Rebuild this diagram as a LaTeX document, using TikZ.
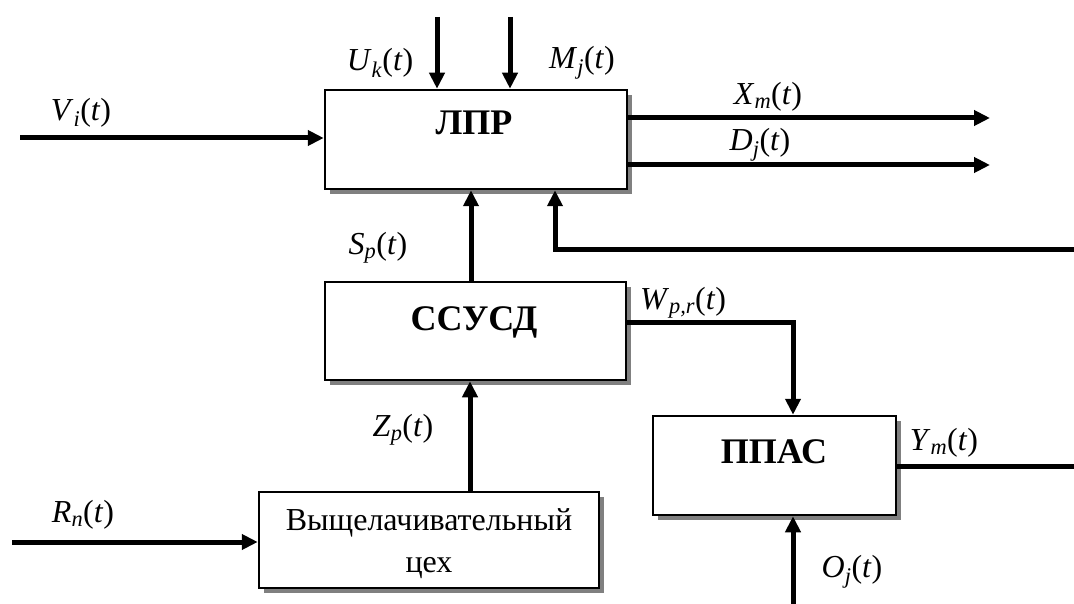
\documentclass[tikz,border=0pt]{standalone}
\usepackage{fontspec}
\setmainfont{Liberation Serif}
\usetikzlibrary{arrows.meta,shadows}
\newcommand\sig[2]{\textit{#1}\textsubscript{\textit{#2}}(\textit{t})}
\tikzset{
  blk/.style={draw=black, line width=2.5pt, fill=white, inner sep=0pt,
    general shadow={fill=black!50, shadow xshift=5pt, shadow yshift=-5pt}},
  ttl/.style={font=\fontsize{36}{42}\selectfont\bfseries},
  txt/.style={font=\fontsize{32}{42}\selectfont, align=center},
  lab/.style={font=\fontsize{32}{38}\selectfont, inner sep=0pt},
  wire/.style={line width=5pt},
  arr/.style={wire, -{Triangle[length=16pt,width=15pt]}},
}
\begin{document}
\begin{tikzpicture}[x=1pt,y=-1pt]
\useasboundingbox (0,0) rectangle (1074,604);
% blocks
\node[blk, minimum width=302pt, minimum height=99pt] (lpr) at (476,139.5) {};
\node[ttl] (lprt) at (474,123) {ЛПР};
\node[blk, minimum width=301pt, minimum height=98pt] (ss) at (475.5,331) {};
\node[ttl] (sst) at (474,322) {ССУСД};
\node[blk, minimum width=243pt, minimum height=99pt] (pp) at (774.5,465.5) {};
\node[ttl] (ppt) at (774,452) {ППАС};
\node[blk, minimum width=340pt, minimum height=96pt] (shop) at (429,540) {};
\node[txt] (shopt) at (429,544) {Выщелачивательный\\цех};
% free ends
\coordinate (vin) at (20,138);
\coordinate (uin) at (437,17);
\coordinate (min) at (510,17);
\coordinate (xout) at (990,118);
\coordinate (dout) at (990,165);
\coordinate (fb) at (1074,250);
\coordinate (fbc) at (555,250);
\coordinate (wc) at (793,322);
\coordinate (yout) at (1074,466);
\coordinate (oin) at (793,604);
\coordinate (rin) at (12,542);
\coordinate (scol) at (471,0);
\coordinate (zcol) at (470,0);
% connectors
\draw[arr] (vin) -- (vin -| lpr.west);
\draw[arr] (uin) -- (uin |- lpr.north);
\draw[arr] (min) -- (min |- lpr.north);
\draw[arr] (xout -| lpr.east) -- (xout);
\draw[arr] (dout -| lpr.east) -- (dout);
\draw[arr] (fb) -- (fbc) -- (fbc |- lpr.south);
\draw[arr] (scol |- ss.north) -- (scol |- lpr.south);
\draw[arr] (wc -| ss.east) -- (wc) -- (wc |- pp.north);
\draw[wire] (yout -| pp.east) -- (yout);
\draw[arr] (oin) -- (oin |- pp.south);
\draw[arr] (zcol |- shop.north) -- (zcol |- ss.south);
\draw[arr] (rin) -- (rin -| shop.west);
% labels
\node[lab] (lv) at (81,113) {\sig{V}{i}};
\node[lab] (lu) at (380,63) {\sig{U}{k}};
\node[lab] (lm) at (582,63) {\sig{M}{j}};
\node[lab] (lx) at (768,97) {\sig{X}{m}};
\node[lab] (ld) at (760,145) {\sig{D}{j}};
\node[lab] (ls) at (378,248) {\sig{S}{p}};
\node[lab] (lw) at (683,303) {\sig{W}{p,r}};
\node[lab] (lz) at (403,430) {\sig{Z}{p}};
\node[lab] (ly) at (944,443) {\sig{Y}{m}};
\node[lab] (lo) at (852,572) {\sig{O}{j}};
\node[lab] (lr) at (83,515) {\sig{R}{n}};
\end{tikzpicture}
\end{document}
